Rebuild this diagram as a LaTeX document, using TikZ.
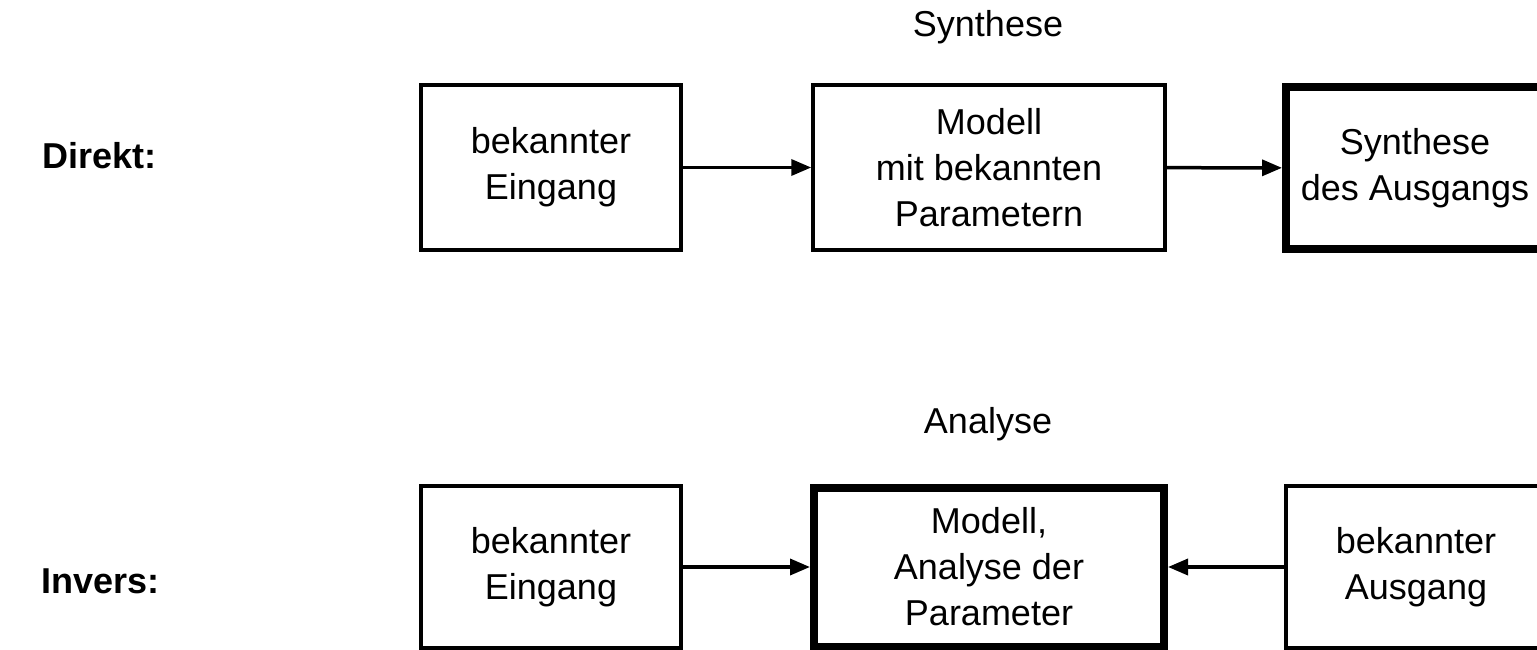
\documentclass[tikz,border=0pt]{standalone}
\usepackage{fontspec}
\setmainfont{Liberation Sans}
\usetikzlibrary{arrows.meta}
\begin{document}
\begin{tikzpicture}[x=1pt,y=-1pt,
  box/.style={draw, line width=3.5pt, align=center, inner sep=0pt,
              font=\fontsize{36}{46}\selectfont},
  heavy/.style={box, line width=8pt},
  link/.style={line width=3.5pt, -{Triangle[length=20pt,width=16pt]}},
  title/.style={font=\fontsize{36}{44}\selectfont, anchor=base},
  side/.style={font=\bfseries\fontsize{36}{44}\selectfont, anchor=base east}]
\useasboundingbox (0,0) rectangle (1537,650);
\clip (0,0) rectangle (1537,650);

% direct problem: synthesis
\node[title] (synT) at (988,37) {Synthese};
\node[side] (dirL) at (160,168) {Direkt:};
\node[box, minimum width=260pt, minimum height=165pt] (dIn) at (551,167.5) {bekannter\\Eingang};
\node[box, minimum width=352pt, minimum height=165pt] (dMod) at (989,167.5) {Modell\\mit bekannten\\Parametern};
\node[heavy, minimum width=258pt, minimum height=162pt] (dOut) at (1415,168) {Synthese\\des Ausgangs};
\draw[link] (dIn) -- (dMod);
\draw[link] (dMod) -- (dOut);

% inverse problem: analysis
\node[title] (anaT) at (988,433) {Analyse};
\node[side] (invL) at (163,593) {Invers:};
\node[box, minimum width=260pt, minimum height=162pt] (iIn) at (551,567) {bekannter\\Eingang};
\node[heavy, minimum width=350pt, minimum height=159pt] (iMod) at (989,567) {Modell,\\Analyse der\\Parameter};
\node[box, minimum width=260pt, minimum height=162pt] (iOut) at (1416,567) {bekannter\\Ausgang};
\draw[link] (iIn) -- (iMod);
\draw[link] (iOut) -- (iMod);
\end{tikzpicture}
\end{document}
